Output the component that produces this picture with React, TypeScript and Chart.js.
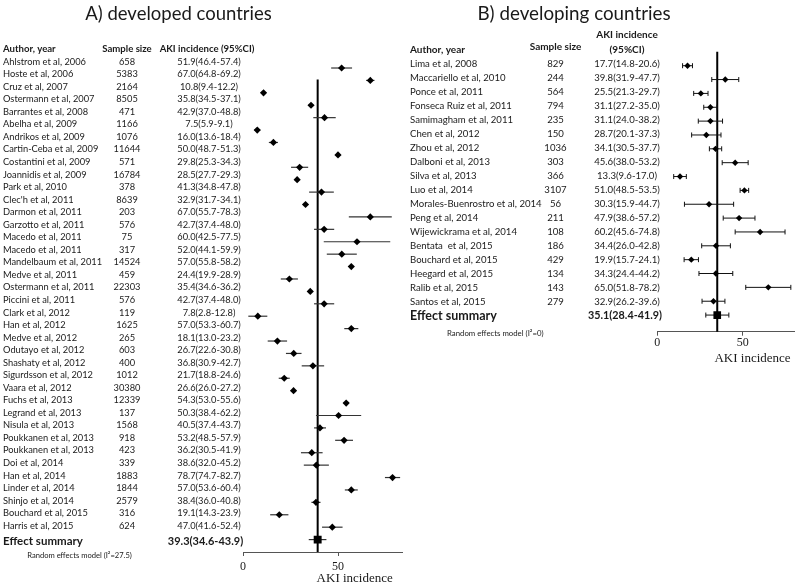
import React, { useEffect, useRef } from "react";
import { Chart, registerables } from "chart.js";
Chart.register(...registerables);

// ---------- Panel A: developed countries ----------
const devAuthors = [
  "Ahlstrom et al, 2006", "Hoste et al, 2006", "Cruz et al, 2007", "Ostermann et al, 2007",
  "Barrantes et al, 2008", "Abelha et al, 2009", "Andrikos et al, 2009", "Cartin-Ceba et al, 2009",
  "Costantini et al, 2009", "Joannidis et al, 2009", "Park et al, 2010", "Clec'h et al, 2011",
  "Darmon et al, 2011", "Garzotto et al, 2011", "Macedo et al, 2011", "Macedo et al, 2011",
  "Mandelbaum et al, 2011", "Medve et al, 2011", "Ostermann et al, 2011", "Piccini et al, 2011",
  "Clark et al, 2012", "Han et al, 2012", "Medve et al, 2012", "Odutayo et al, 2012",
  "Shashaty et al, 2012", "Sigurdsson et al, 2012", "Vaara et al, 2012", "Fuchs et al, 2013",
  "Legrand et al, 2013", "Nisula et al, 2013", "Poukkanen et al, 2013", "Poukkanen et al, 2013",
  "Doi et al, 2014", "Han et al, 2014", "Linder et al, 2014", "Shinjo et al, 2014",
  "Bouchard et al, 2015", "Harris et al, 2015",
];
const devSizes = [
  658, 5383, 2164, 8505, 471, 1166, 1076, 11644, 571, 16784, 378, 8639, 203, 576, 75, 317,
  14524, 459, 22303, 576, 119, 1625, 265, 603, 400, 1012, 30380, 12339, 137, 1568, 918, 423,
  339, 1883, 1844, 2579, 316, 624,
];
const devEst = [
  51.9, 67.0, 10.8, 35.8, 42.9, 7.5, 16.0, 50.0, 29.8, 28.5, 41.3, 32.9, 67.0, 42.7, 60.0, 52.0,
  57.0, 24.4, 35.4, 42.7, 7.8, 57.0, 18.1, 26.7, 36.8, 21.7, 26.6, 54.3, 50.3, 40.5, 53.2, 36.2,
  38.6, 78.7, 57.0, 38.4, 19.1, 47.0,
];
const devLow = [
  46.4, 64.8, 9.4, 34.5, 37.0, 5.9, 13.6, 48.7, 25.3, 27.7, 34.8, 31.7, 55.7, 37.4, 42.5, 44.1,
  55.8, 19.9, 34.6, 37.4, 2.8, 53.3, 13.0, 22.6, 30.9, 18.8, 26.0, 53.0, 38.4, 37.4, 48.5, 30.5,
  32.0, 74.7, 53.6, 36.0, 14.3, 41.6,
];
const devHigh = [
  57.4, 69.2, 12.2, 37.1, 48.8, 9.1, 18.4, 51.3, 34.3, 29.3, 47.8, 34.1, 78.3, 48.0, 77.5, 59.9,
  58.2, 28.9, 36.2, 48.0, 12.8, 60.7, 23.2, 30.8, 42.7, 24.6, 27.2, 55.6, 62.2, 43.7, 57.9, 41.9,
  45.2, 82.7, 60.4, 40.8, 23.9, 52.4,
];
const devSummary = [39.3, 34.6, 43.9];
const devI2 = "27.5";

// ---------- Panel B: developing countries ----------
const lowAuthors = [
  "Lima et al, 2008", "Maccariello et al, 2010", "Ponce et al, 2011", "Fonseca Ruiz et al, 2011",
  "Samimagham et al, 2011", "Chen et al, 2012", "Zhou et al, 2012", "Dalboni et al, 2013",
  "Silva et al, 2013", "Luo et al, 2014", "Morales-Buenrostro et al, 2014", "Peng et al, 2014",
  "Wijewickrama et al, 2014", "Bentata  et al, 2015", "Bouchard et al, 2015", "Heegard et al, 2015",
  "Ralib et al, 2015", "Santos et al, 2015",
];
const lowSizes = [829, 244, 564, 794, 235, 150, 1036, 303, 366, 3107, 56, 211, 108, 186, 429, 134, 143, 279];
const lowEst = [17.7, 39.8, 25.5, 31.1, 31.1, 28.7, 34.1, 45.6, 13.3, 51.0, 30.3, 47.9, 60.2, 34.4, 19.9, 34.3, 65.0, 32.9];
const lowLow = [14.8, 31.9, 21.3, 27.2, 24.0, 20.1, 30.5, 38.0, 9.6, 48.5, 15.9, 38.6, 45.6, 26.0, 15.7, 24.4, 51.8, 26.2];
const lowHigh = [20.6, 47.7, 29.7, 35.0, 38.2, 37.3, 37.7, 53.2, 17.0, 53.5, 44.7, 57.2, 74.8, 42.8, 24.1, 44.2, 78.2, 39.6];
const lowSummary = [35.1, 28.4, 41.9];
const lowI2 = "0";

const axisTickValues = [0, 50];
const axisTitle = "AKI incidence";

const SANS = "Lato, 'Open Sans', sans-serif";
const SERIF = "\"Liberation Serif\", \"Times New Roman\", \"DejaVu Serif\", serif";

type Panel = {
  title: string;
  names: string[];
  sizes: number[];
  est: number[];
  low: number[];
  high: number[];
  summary: number[];
  i2: string;
  canvasLeft: number;
  canvasWidth: number;
  pad: { left: number; right: number; top: number; bottom: number };
  axisHeight: number;
  xMax: number;
  yMin: number;
  yMax: number;
  refTop: number;
  caps: number;
  barColor: string;
  barWidth: number;
  pointRadius: number;
  squareRadius: number;
  tickPad: number;
  text: {
    titleX: number; titleY: number; titleFont: string;
    headY: number; headFont: string;
    nameX: number; sizeX: number; ciX: number; sumCiX: number;
    row0: number; rowStep: number; sumY: number;
    bodyFont: string; sumFont: string; sumCiFont: string;
    reX: number; reY: number; reFont: string;
    axisTitleX: number; axisTitleY: number;
    twoLineHeader: boolean;
    sampleHeadY: number;
  };
};

const fmt = (v: number) => v.toFixed(1);

function forestPlugin(p: Panel) {
  return {
    id: "forest",
    beforeDatasetsDraw(chart: any) {
      const { ctx, scales } = chart;
      const x = scales.x, y = scales.y;
      ctx.save();
      const rx = x.getPixelForValue(p.summary[0]);
      ctx.strokeStyle = "#000";
      ctx.lineWidth = 2;
      ctx.beginPath();
      ctx.moveTo(rx, y.getPixelForValue(p.refTop));
      ctx.lineTo(rx, chart.chartArea.bottom);
      ctx.stroke();
      const rows: number[][] = p.low.map((lo, i) => [lo, p.high[i], i]);
      rows.push([p.summary[1], p.summary[2], p.names.length]);
      ctx.strokeStyle = p.barColor;
      ctx.lineWidth = p.barWidth;
      for (const [lo, hi, i] of rows) {
        const x1 = x.getPixelForValue(lo);
        const x2 = x.getPixelForValue(hi);
        const yy = y.getPixelForValue(i);
        ctx.beginPath();
        ctx.moveTo(x1, yy);
        ctx.lineTo(x2, yy);
        if (p.caps > 0) {
          ctx.moveTo(x1, yy - p.caps);
          ctx.lineTo(x1, yy + p.caps);
          ctx.moveTo(x2, yy - p.caps);
          ctx.lineTo(x2, yy + p.caps);
        }
        ctx.stroke();
      }
      ctx.restore();
    },
    afterDraw(chart: any) {
      const { ctx } = chart;
      const t = p.text;
      ctx.save();
      ctx.textBaseline = "middle";
      ctx.fillStyle = "#1a1a1a";
      ctx.font = t.titleFont;
      ctx.textAlign = "center";
      ctx.fillText(p.title, t.titleX, t.titleY);
      ctx.font = t.headFont;
      ctx.textAlign = "left";
      ctx.fillText("Author, year", t.nameX, t.headY);
      ctx.textAlign = "center";
      ctx.fillText("Sample size", t.sizeX, t.sampleHeadY);
      if (t.twoLineHeader) {
        ctx.fillText("AKI incidence", t.ciX, t.headY - 15);
        ctx.fillText("(95%CI)", t.ciX, t.headY);
      } else {
        ctx.fillText("AKI incidence (95%CI)", t.ciX - 2, t.headY);
      }
      ctx.font = t.bodyFont;
      p.names.forEach((n, i) => {
        const yy = t.row0 + i * t.rowStep;
        ctx.textAlign = "left";
        ctx.fillText(n, t.nameX, yy);
        ctx.textAlign = "center";
        ctx.fillText(String(p.sizes[i]), t.sizeX, yy);
        ctx.fillText(`${fmt(p.est[i])}(${fmt(p.low[i])}-${fmt(p.high[i])})`, t.ciX, yy);
      });
      ctx.font = t.sumFont;
      ctx.textAlign = "left";
      ctx.fillText("Effect summary", t.nameX, t.sumY);
      ctx.font = t.sumCiFont;
      ctx.textAlign = "center";
      ctx.fillText(`${fmt(p.summary[0])}(${fmt(p.summary[1])}-${fmt(p.summary[2])})`, t.sumCiX, t.sumY);
      ctx.font = t.reFont;
      ctx.fillText(`Random effects model (I\u00B2=${p.i2})`, t.reX, t.reY);
      ctx.font = `13px ${SERIF}`;
      ctx.fillText(axisTitle, t.axisTitleX, t.axisTitleY);
      ctx.restore();
    },
  };
}

function ForestChart({ p }: { p: Panel }) {
  const ref = useRef<HTMLCanvasElement>(null);
  useEffect(() => {
    if (!ref.current) return;
    const chart = new Chart(ref.current, {
      type: "scatter",
      data: {
        datasets: [
          {
            data: p.est.map((v, i) => ({ x: v, y: i })),
            pointStyle: "rectRot",
            pointRadius: p.pointRadius,
            backgroundColor: "#000",
            borderColor: "#000",
            borderWidth: 0,
          },
          {
            data: [{ x: p.summary[0], y: p.names.length }],
            pointStyle: "rect",
            pointRadius: p.squareRadius,
            backgroundColor: "#000",
            borderColor: "#000",
            borderWidth: 0,
          },
        ],
      },
      options: {
        responsive: false,
        animation: false,
        devicePixelRatio: 1,
        layout: { padding: p.pad },
        plugins: { legend: { display: false }, tooltip: { enabled: false } },
        scales: {
          x: {
            type: "linear",
            min: 0,
            max: p.xMax,
            afterFit: (s: any) => { s.height = p.axisHeight; },
            afterBuildTicks: (s: any) => { s.ticks = axisTickValues.map((v) => ({ value: v })); },
            ticks: {
              stepSize: 50,
              includeBounds: false,
              font: { family: SERIF, size: 12 },
              color: "#1a1a1a",
              padding: p.tickPad,
              maxRotation: 0,
            },
            grid: { display: true, drawOnChartArea: false, drawTicks: true, tickLength: 4, color: "#555" },
            border: { display: true, color: "#555", width: 1 },
          },
          y: {
            type: "linear",
            reverse: true,
            min: p.yMin,
            max: p.yMax,
            display: false,
          },
        },
      },
      plugins: [forestPlugin(p)],
    } as any);
    return () => chart.destroy();
  }, [p]);
  return (
    <canvas
      ref={ref}
      width={p.canvasWidth}
      height={588}
      style={{ position: "absolute", left: p.canvasLeft, top: 0, width: p.canvasWidth, height: 588 }}
    />
  );
}

const panelA: Panel = {
  title: "A) developed countries",
  names: devAuthors, sizes: devSizes, est: devEst, low: devLow, high: devHigh,
  summary: devSummary, i2: devI2,
  canvasLeft: 0, canvasWidth: 420,
  pad: { left: 243, right: 420 - 402.6, top: 55.6, bottom: 0 },
  axisHeight: 36,
  xMax: 84, yMin: -1, yMax: 39, refTop: 0.93, caps: 0,
  barColor: "#333", barWidth: 1.2, pointRadius: 3.6, squareRadius: 5.6, tickPad: 4,
  text: {
    titleX: 178.5, titleY: 14, titleFont: `18.5px ${SANS}`,
    headY: 48.7, headFont: `bold 9.6px ${SANS}`,
    nameX: 3, sizeX: 127, ciX: 209, sumCiX: 205.5,
    row0: 61.7, rowStep: 12.54, sumY: 541,
    bodyFont: `9.3px ${SANS}`, sumFont: `bold 11.5px ${SANS}`, sumCiFont: `bold 11px ${SANS}`,
    reX: 79.5, reY: 555.7, reFont: `7.6px ${SANS}`,
    axisTitleX: 354.7, axisTitleY: 579,
    twoLineHeader: false, sampleHeadY: 48.7,
  },
};

const panelB: Panel = {
  title: "B) developing countries",
  names: lowAuthors, sizes: lowSizes, est: lowEst, low: lowLow, high: lowHigh,
  summary: lowSummary, i2: lowI2,
  canvasLeft: 400, canvasWidth: 400,
  pad: { left: 257.3, right: 0, top: 51.85, bottom: 588 - 331.7 - 30 },
  axisHeight: 30,
  xMax: 80.4, yMin: -1, yMax: 19.2, refTop: -1, caps: 2.5,
  barColor: "#111", barWidth: 1, pointRadius: 3.2, squareRadius: 5.4, tickPad: 0,
  text: {
    titleX: 174, titleY: 14, titleFont: `18.8px ${SANS}`,
    headY: 50, headFont: `bold 10px ${SANS}`,
    nameX: 10, sizeX: 155.5, ciX: 227, sumCiX: 225,
    row0: 63.7, rowStep: 14.0, sumY: 316,
    bodyFont: `9.6px ${SANS}`, sumFont: `bold 12.5px ${SANS}`, sumCiFont: `bold 10.8px ${SANS}`,
    reX: 95.3, reY: 333, reFont: `7.8px ${SANS}`,
    axisTitleX: 352.5, axisTitleY: 359,
    twoLineHeader: true, sampleHeadY: 47,
  },
};

export default function App() {
  return (
    <div style={{ position: "absolute", left: 0, top: 0, width: 800, height: 588, background: "#fff", overflow: "hidden" }}>
      <ForestChart p={panelA} />
      <ForestChart p={panelB} />
    </div>
  );
}
